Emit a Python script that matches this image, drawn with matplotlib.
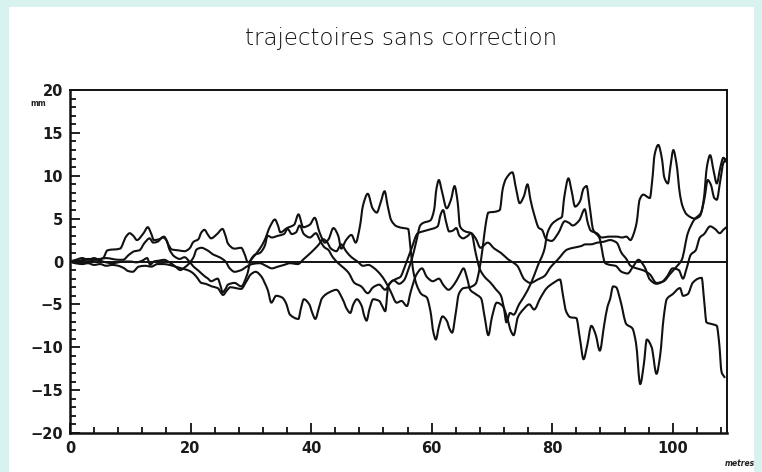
import matplotlib
matplotlib.use("Agg")
import matplotlib.pyplot as plt
from matplotlib.patches import Rectangle, PathPatch
from matplotlib.path import Path
from matplotlib.ticker import MultipleLocator

title = "trajectoires sans correction"
x_label = "metres"
y_label = "mm"
x_ticks = [0, 20, 40, 60, 80, 100]
y_ticks = [-20, -15, -10, -5, 0, 5, 10, 15, 20]

traj_a = [
    (0, 0), (1.5, 0.1), (3, 0.3), (4.5, 0.2), (5.5, 0.4), (6.2, 1.3), (8.3, 1.5), (9.3, 2.9), (9.9, 3.3),
    (10.5, 3.0), (11.1, 2.5), (12.2, 3.3), (12.9, 4.0), (13.5, 3.2), (13.9, 2.5), (14.8, 2.6), (15.6, 2.9),
    (16.3, 2.0), (16.9, 1.4), (18.0, 1.3), (19.0, 1.2), (19.8, 1.5), (20.5, 2.3), (21.3, 2.6), (21.8, 3.4),
    (22.3, 3.7), (22.9, 3.1), (23.4, 2.7), (24.4, 3.2), (25.3, 3.8), (25.8, 3.0), (26.2, 2.1), (27.3, 1.5),
    (28.4, 1.6), (29.0, 0.8), (29.5, -0.1), (30.5, 0.6), (31.5, 1.5), (32.3, 2.5), (33.2, 4.1), (34.0, 4.9),
    (34.5, 4.2), (34.9, 3.4), (36.0, 3.9), (37.2, 4.3), (37.9, 5.5), (38.7, 4.0), (39.8, 4.3), (40.6, 5.1),
    (41.4, 3.4), (42.3, 2.2), (42.9, 2.6), (43.7, 3.9), (44.5, 3.0), (45.0, 1.5), (45.8, 2.5), (46.7, 3.1),
    (47.4, 2.2), (48.1, 4.1), (48.6, 6.5), (49.4, 7.9), (50.2, 6.2), (50.9, 5.7), (51.5, 6.8), (52.2, 8.2),
    (52.7, 6.5), (53.3, 4.8), (54.2, 4.1), (55.3, 3.9), (56.1, 3.8), (56.5, 1.5), (56.9, -0.9), (57.5, -2.7),
    (58.3, -3.8), (59.2, -4.2), (59.8, -5.8), (60.3, -8.3), (60.7, -9.1), (61.2, -7.6), (61.8, -6.4),
    (62.5, -6.9), (63.0, -7.9), (63.4, -8.3), (64.0, -6.0), (64.5, -3.8), (65.3, -3.1), (66.3, -3.0),
    (67.3, -2.6), (67.9, -1.0), (68.5, 1.8), (69.0, 4.5), (69.4, 5.7), (70.5, 5.8), (71.3, 6.0), (71.8, 8.5),
    (72.3, 9.6), (73.4, 10.4), (74.0, 8.5), (74.6, 6.8), (75.3, 7.6), (75.9, 9.0), (76.4, 7.2), (77.0, 5.5),
    (77.8, 3.9), (78.3, 3.7), (79.0, 2.6), (79.9, 2.4), (81.0, 3.3), (82.1, 4.7), (82.8, 4.5), (83.4, 4.2),
    (84.5, 4.8), (85.4, 6.1), (85.9, 4.5), (86.4, 3.6), (87.4, 3.3), (88.2, 2.8), (89.5, 2.9), (90.7, 2.9),
    (91.6, 2.8), (92.3, 2.9), (93.0, 2.5), (93.5, 3.2), (94.0, 4.5), (94.5, 7.2), (95.1, 7.8), (96.2, 7.4),
    (96.6, 9.5), (97.0, 12.5), (97.6, 13.6), (98.2, 12.0), (98.6, 9.8), (99.2, 9.1), (99.6, 11.0),
    (100.1, 13.0), (100.6, 11.5), (101.2, 7.8), (101.6, 6.5), (102.3, 5.5), (103.7, 5.0), (104.5, 5.3),
    (105.1, 7.0), (105.7, 11.2), (106.2, 12.4), (106.8, 10.5), (107.3, 9.1), (107.9, 11.0), (108.4, 12.1),
    (108.9, 11.6),
]

traj_b = [
    (0, 0), (1, -0.2), (2, 0.1), (3, 0.0), (4, 0.2), (5, 0.3), (6, 0.4), (7, 0.3), (8, 0.2), (8.8, 0.2),
    (9.8, 0.8), (10.7, 1.2), (11.5, 1.3), (12.4, 2.2), (13.2, 2.7), (13.8, 2.2), (14.5, 2.3), (15.4, 2.8),
    (16.0, 2.5), (16.5, 1.4), (17.3, 0.6), (18.2, 0.3), (19.0, 0.5), (19.8, 0.0), (20.5, -0.6), (21.2, -1.0),
    (22.3, -1.7), (22.9, -2.0), (23.4, -2.3), (24.5, -2.0), (25.0, -2.9), (25.3, -3.6), (25.8, -3.2),
    (26.2, -2.7), (27.3, -2.5), (28.4, -2.9), (29.4, -1.5), (30.0, 0.2), (30.7, 0.8), (31.5, 1.0), (32.3, 1.8),
    (32.8, 3.0), (33.5, 2.8), (34.5, 3.0), (35.5, 3.2), (36.1, 3.8), (36.8, 3.2), (37.5, 3.4), (38.1, 4.2),
    (38.8, 3.2), (39.8, 2.8), (40.8, 3.3), (41.5, 2.4), (42.3, 1.6), (42.8, 1.4), (43.6, 0.5), (44.5, -0.2),
    (45.5, -0.8), (46.2, -1.3), (47.2, -2.5), (48.3, -2.9), (49.4, -3.7), (50.3, -3.0), (51.3, -2.7),
    (52.3, -3.3), (53.1, -2.5), (53.9, -2.1), (54.8, -1.8), (55.6, -0.5), (56.6, 1.4), (57.7, 3.3),
    (58.5, 3.5), (59.5, 3.7), (61.0, 4.1), (61.5, 5.5), (61.9, 6.0), (62.4, 4.6), (62.9, 3.5), (63.5, 3.6),
    (64.1, 3.9), (64.6, 3.0), (65.2, 2.7), (66.0, 3.0), (66.5, 3.3), (67.3, 2.7), (68.1, 1.6), (69.3, 2.2),
    (70.4, 1.5), (71.5, 1.0), (72.6, 0.3), (74.2, -0.5), (75.4, -2.1), (76.4, -2.5), (77.6, -2.1),
    (78.7, -1.7), (79.8, -0.6), (80.9, 0.2), (82.5, 1.4), (83.5, 1.6), (84.8, 1.8), (85.5, 2.0), (86.4, 2.0),
    (87.5, 2.2), (88.5, 2.3), (89.6, 2.5), (90.7, 2.2), (91.5, 1.0), (92.3, 0.3), (93.0, -0.5), (94.0, -0.8),
    (95.0, -1.0), (96.2, -1.5), (97.3, -2.5), (98.5, -2.3), (99.5, -1.5), (100.5, -0.7), (101.5, 0.2),
    (102.5, 3.3), (103.6, 4.9), (104.7, 5.7), (105.3, 7.5), (105.8, 9.5), (106.3, 9.0), (106.9, 7.4),
    (107.3, 7.2), (107.9, 9.5), (108.4, 11.5), (108.9, 12.0),
]

traj_c = [
    (0, 0), (1, -0.2), (2, -0.3), (3, -0.2), (4, -0.4), (5, -0.3), (6, -0.5), (7, -0.4), (8, -0.5),
    (9.0, -0.8), (9.6, -1.1), (10.4, -1.2), (11.4, -0.6), (12.5, -0.5), (13.5, -0.6), (14.5, -0.3),
    (15.5, -0.3), (16.5, -0.4), (17.5, -0.6), (18.5, -0.8), (19.5, -1.0), (20.3, -1.3), (21.0, -1.8),
    (21.8, -2.5), (22.5, -2.6), (23.5, -2.9), (24.5, -3.1), (25.4, -3.9), (26.0, -3.4), (26.6, -3.0),
    (27.5, -3.1), (28.4, -3.2), (29.2, -2.4), (30.0, -1.5), (30.8, -1.2), (31.8, -1.8), (32.3, -2.5),
    (32.8, -3.3), (33.4, -4.8), (34.2, -4.0), (35.2, -4.2), (35.8, -4.8), (36.5, -6.2), (37.9, -6.7),
    (38.3, -5.5), (38.8, -4.4), (39.7, -5.0), (40.2, -6.0), (40.7, -6.7), (41.3, -5.4), (41.8, -4.3),
    (43.0, -3.6), (44.2, -3.3), (45.3, -4.5), (45.9, -5.5), (46.5, -6.0), (47.0, -5.0), (47.6, -4.4),
    (48.4, -5.2), (48.8, -6.3), (49.2, -6.9), (49.7, -5.5), (50.3, -4.4), (51.3, -4.6), (51.8, -5.2),
    (52.3, -5.8), (52.8, -2.9), (53.7, -2.2), (54.6, -2.6), (55.4, -2.2), (56.2, -0.8), (56.8, 0.5),
    (57.5, 2.5), (58.1, 4.2), (58.6, 4.5), (59.8, 4.8), (60.4, 6.0), (60.8, 8.5), (61.2, 9.5), (61.7, 8.2),
    (62.5, 6.2), (63.2, 7.2), (63.8, 8.8), (64.3, 7.0), (64.7, 4.1), (65.6, 3.5), (66.6, 3.3), (67.3, 1.0),
    (68.0, -0.9), (68.8, -1.8), (69.8, -2.5), (70.6, -3.2), (71.5, -4.0), (72.0, -5.5), (72.4, -7.1),
    (73.0, -6.0), (73.6, -6.2), (74.5, -5.0), (75.4, -4.0), (76.5, -2.5), (77.6, -0.5), (78.7, 1.4),
    (79.2, 3.3), (80.0, 4.4), (80.9, 4.9), (81.6, 5.2), (82.0, 7.5), (82.7, 9.7), (83.2, 8.3), (83.8, 6.4),
    (84.6, 7.0), (85.2, 8.5), (85.7, 8.8), (86.2, 6.5), (86.8, 3.7), (87.8, 2.8), (88.8, -0.2), (89.6, -0.4),
    (90.5, -0.5), (91.5, -1.2), (92.5, -1.4), (93.5, -0.5), (94.3, 0.2), (95.3, -0.6), (96.2, -2.1),
    (97.3, -2.6), (98.2, -2.4), (99.0, -1.8), (100.0, -0.8), (101.0, -1.0), (101.7, -2.0), (102.3, -0.8),
    (103.0, 0.8), (103.8, 1.3), (104.5, 2.8), (105.2, 3.2), (106.2, 4.1), (107.0, 3.8), (107.8, 3.3),
    (108.4, 3.7), (108.9, 4.0),
]

traj_d = [
    (0, 0), (1, 0.2), (2, 0.4), (3, 0.2), (4, 0.4), (5, 0.1), (6, -0.1), (7, -0.2), (8, -0.1), (9, 0.0),
    (10, 0.0), (11, -0.1), (12, 0.1), (12.8, 0.4), (13.3, -0.4), (13.9, 0.0), (14.8, 0.1), (15.6, 0.2),
    (16.5, -0.1), (17.5, -0.6), (18.3, -1.0), (19.0, -0.7), (19.8, -0.2), (20.5, 0.5), (21.0, 1.4),
    (21.8, 1.6), (22.8, 1.3), (23.8, 0.8), (24.8, 0.5), (25.8, 0.0), (26.5, -0.8), (27.3, -1.2), (28.4, -1.0),
    (29.3, -0.6), (30.2, -0.3), (31.5, -0.2), (32.5, -0.5), (33.5, -0.8), (34.5, -0.6), (35.5, -0.4),
    (36.5, -0.2), (37.8, -0.3), (38.8, 0.3), (39.6, 0.8), (40.5, 1.4), (41.3, 2.0), (42.0, 2.6), (42.6, 2.3),
    (43.3, 1.5), (44.2, 1.2), (45.0, 2.0), (45.8, 1.2), (46.7, 0.5), (47.7, 0.0), (48.6, -0.5), (49.5, -0.4),
    (50.5, -0.8), (51.5, -1.5), (52.3, -2.3), (53.2, -3.5), (54.2, -4.8), (55.0, -4.6), (55.9, -5.2),
    (56.5, -3.6), (57.5, -1.5), (58.4, -0.8), (59.2, -1.8), (60.2, -2.3), (61.2, -2.0), (62.0, -2.8),
    (62.8, -3.3), (63.8, -2.6), (64.6, -1.6), (65.3, -0.8), (65.9, -2.0), (66.4, -3.3), (67.3, -3.8),
    (68.2, -4.3), (68.8, -6.5), (69.4, -8.6), (70.0, -6.5), (70.8, -4.8), (71.8, -5.2), (72.5, -6.5),
    (73.2, -8.2), (73.6, -8.6), (74.3, -6.5), (75.2, -5.6), (76.2, -5.0), (77.0, -5.6), (78.0, -4.3),
    (79.1, -3.1), (80.2, -2.5), (81.3, -2.1), (81.8, -4.0), (82.3, -5.8), (83.0, -6.5), (84.0, -6.6),
    (84.6, -9.0), (85.2, -11.4), (85.8, -9.8), (86.5, -7.5), (87.2, -8.5), (87.9, -10.4), (88.6, -7.5),
    (89.2, -5.2), (89.6, -4.4), (90.1, -2.9), (90.6, -3.0), (91.3, -4.5), (92.3, -7.3), (93.3, -7.8),
    (93.9, -9.5), (94.6, -14.3), (95.2, -12.0), (95.7, -9.1), (96.5, -10.0), (97.3, -13.1), (97.9, -11.0),
    (98.5, -6.5), (99.0, -4.4), (100.0, -3.8), (101.2, -3.1), (101.7, -4.0), (102.5, -3.8), (103.3, -2.5),
    (104.2, -2.0), (104.8, -1.9), (105.2, -4.5), (105.6, -7.1), (106.5, -7.3), (107.3, -7.5), (107.7, -9.5),
    (108.1, -12.9), (108.6, -13.5),
]

trajectories = [traj_a, traj_b, traj_c, traj_d]


def smooth_path(points):
    """Pen-plotter style rendering: monotone cubic (Hermite) segments through the given points."""
    xs = [p[0] for p in points]
    ys = [p[1] for p in points]
    n = len(xs)
    h = [xs[i + 1] - xs[i] for i in range(n - 1)]
    d = [(ys[i + 1] - ys[i]) / h[i] for i in range(n - 1)]
    m = [0.0] * n
    m[0], m[-1] = d[0], d[-1]
    for k in range(1, n - 1):
        if d[k - 1] * d[k] <= 0:
            m[k] = 0.0
        else:
            w1 = 2 * h[k] + h[k - 1]
            w2 = h[k] + 2 * h[k - 1]
            m[k] = (w1 + w2) / (w1 / d[k - 1] + w2 / d[k])
    verts = [(xs[0], ys[0])]
    codes = [Path.MOVETO]
    for i in range(n - 1):
        t = h[i] / 3.0
        verts += [(xs[i] + t, ys[i] + m[i] * t), (xs[i + 1] - t, ys[i + 1] - m[i + 1] * t), (xs[i + 1], ys[i + 1])]
        codes += [Path.CURVE4] * 3
    return Path(verts, codes)


W, H = 762, 472
fig = plt.figure(figsize=(W / 100, H / 100), dpi=100, facecolor="#d7f2ef")
bg = Rectangle((9 / W, 0), (754 - 9) / W, (H - 7) / H, transform=fig.transFigure,
               facecolor="white", edgecolor="none", zorder=-10)
fig.add_artist(bg)

ax = fig.add_axes([70 / W, (H - 433) / H, (727 - 70) / W, (433 - 90) / H])
ax.set_zorder(1)
ax.set_facecolor("white")
ax.set_xlim(0, 109)
ax.set_ylim(-20, 20)

ink = "#111111"
for tr in trajectories:
    ax.add_patch(PathPatch(smooth_path(tr), facecolor="none", edgecolor=ink, lw=1.5,
                           joinstyle="round", capstyle="round"))
ax.axhline(0, color=ink, lw=1.4)

for s in ax.spines.values():
    s.set_color(ink)
    s.set_linewidth(1.4)
ax.spines["left"].set_linewidth(1.8)
ax.spines["bottom"].set_linewidth(1.8)

ax.set_xticks(x_ticks)
ax.set_yticks(y_ticks)
ax.xaxis.set_minor_locator(MultipleLocator(4))
ax.yaxis.set_minor_locator(MultipleLocator(1))
ax.tick_params(which="both", direction="in", top=False, right=False, color=ink, width=1.3)
ax.tick_params(which="major", length=7)
ax.tick_params(which="minor", length=4)
ax.tick_params(axis="x", which="major", pad=6)
ax.tick_params(axis="y", which="major", pad=5)
for lab in ax.get_xticklabels() + ax.get_yticklabels():
    lab.set_fontsize(10.5)
    lab.set_fontweight("bold")
    lab.set_color("#1a1a1a")

fig.text(401 / W, 1 - 38 / H, title, ha="center", va="center", fontsize=16.5,
         color="#111111", family="DejaVu Sans", fontweight="light", zorder=2)
fig.text(38 / W, 1 - 104 / H, y_label, ha="center", va="center", fontsize=5.5,
         fontweight="bold", color="#222222", zorder=2)
fig.text(740 / W, 1 - 464 / H, x_label, ha="center", va="center", fontsize=5.5,
         fontweight="bold", style="italic", color="#222222", zorder=2)

fig.savefig("out.png", dpi=100, facecolor=fig.get_facecolor())
